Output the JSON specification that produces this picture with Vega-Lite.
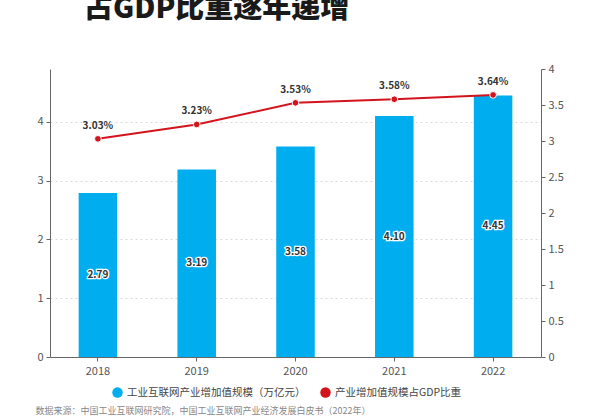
{
  "$schema": "https://vega.github.io/schema/vega-lite/v6.json",
  "autosize": {"type": "none"},
  "width": 491,
  "height": 288,
  "padding": {"left": 50, "top": 69, "right": 59, "bottom": 63},
  "background": "white",
  "title": {
    "text": "占GDP比重逐年递增",
    "anchor": "start",
    "frame": "group",
    "orient": "top",
    "font": "Noto Sans CJK SC",
    "fontWeight": 900,
    "fontSize": 29,
    "color": "#1a1a1a",
    "dx": 34,
    "dy": -35
  },
  "config": {
    "view": {"stroke": null},
    "font": "Noto Sans CJK SC",
    "axis": {"labelColor": "#555", "labelFontSize": 11, "domainColor": "#666", "tickColor": "#666", "labelFont": "Noto Sans CJK SC", "labelOverlap": false}
  },
  "data": {
    "values": [
      {"year": "2018", "value": 2.79, "pct": 3.03},
      {"year": "2019", "value": 3.19, "pct": 3.23},
      {"year": "2020", "value": 3.58, "pct": 3.53},
      {"year": "2021", "value": 4.10, "pct": 3.58},
      {"year": "2022", "value": 4.45, "pct": 3.64}
    ]
  },
  "transform": [
    {"calculate": "datum.value / 2", "as": "mid"},
    {"calculate": "format(datum.pct, '.2f') + '%'", "as": "pctLabel"}
  ],
  "encoding": {
    "x": {
      "field": "year", "type": "nominal",
      "scale": {"paddingInner": 0.61, "paddingOuter": 0.29},
      "axis": {"title": "数据来源：中国工业互联网研究院，中国工业互联网产业经济发展白皮书（2022年）", "titleFontSize": 9, "titleFontWeight": "normal", "titleColor": "#888", "titleAnchor": "start", "titleAlign": "left", "titleX": -15, "titleY": 49, "labelAngle": 0, "labelPadding": 4, "tickSize": 4, "ticks": true}
    }
  },
  "layer": [
    {
      "layer": [
        {
          "mark": {"type": "bar"},
          "encoding": {
            "y": {"field": "value", "type": "quantitative", "scale": {"domain": [0, 4.9], "nice": false},
              "axis": {"title": null, "values": [0, 1, 2, 3, 4], "format": "d", "grid": true, "gridDash": [2, 3], "gridColor": "#d8d8d8", "tickSize": 4, "labelPadding": 3}},
            "color": {"datum": "工业互联网产业增加值规模（万亿元）", "type": "nominal",
              "scale": {"domain": ["工业互联网产业增加值规模（万亿元）", "产业增加值规模占GDP比重"], "range": ["#00AEEF", "#D2141C"]},
              "legend": {"orient": "none", "legendX": 62, "legendY": 318, "direction": "horizontal", "title": null, "symbolType": "circle", "symbolSize": 110, "labelFontSize": 10.5, "labelColor": "#444", "labelLimit": 400, "columnPadding": 14, "symbolStrokeWidth": 0}}
          }
        },
        {
          "mark": {"type": "text", "fontSize": 10, "fontWeight": "bold", "stroke": "white", "strokeWidth": 2.5, "color": "#333"},
          "encoding": {"y": {"field": "mid", "type": "quantitative"}, "text": {"field": "value", "format": ".2f"}}
        },
        {
          "mark": {"type": "text", "fontSize": 10, "fontWeight": "bold", "color": "#333"},
          "encoding": {"y": {"field": "mid", "type": "quantitative"}, "text": {"field": "value", "format": ".2f"}}
        }
      ]
    },
    {
      "encoding": {
        "y": {"field": "pct", "type": "quantitative", "scale": {"domain": [0, 4], "nice": false},
          "axis": {"title": null, "orient": "right", "values": [0, 0.5, 1, 1.5, 2, 2.5, 3, 3.5, 4], "format": "~g", "grid": false, "tickSize": 4, "labelPadding": 3, "labelOverlap": false}}
      },
      "layer": [
        {
          "mark": {"type": "line", "color": "#C8161D", "strokeWidth": 2},
          "encoding": {
            "color": {"datum": "产业增加值规模占GDP比重", "type": "nominal"}
          }
        },
        {
          "mark": {"type": "point", "filled": true, "size": 45, "color": "#D2141C", "stroke": "white", "strokeWidth": 1, "opacity": 1}
        },
        {
          "mark": {"type": "text", "fontSize": 10, "fontWeight": "bold", "color": "#333", "dy": -13},
          "encoding": {"text": {"field": "pctLabel"}}
        }
      ]
    }
  ],
  "resolve": {"scale": {"y": "independent"}}
}
